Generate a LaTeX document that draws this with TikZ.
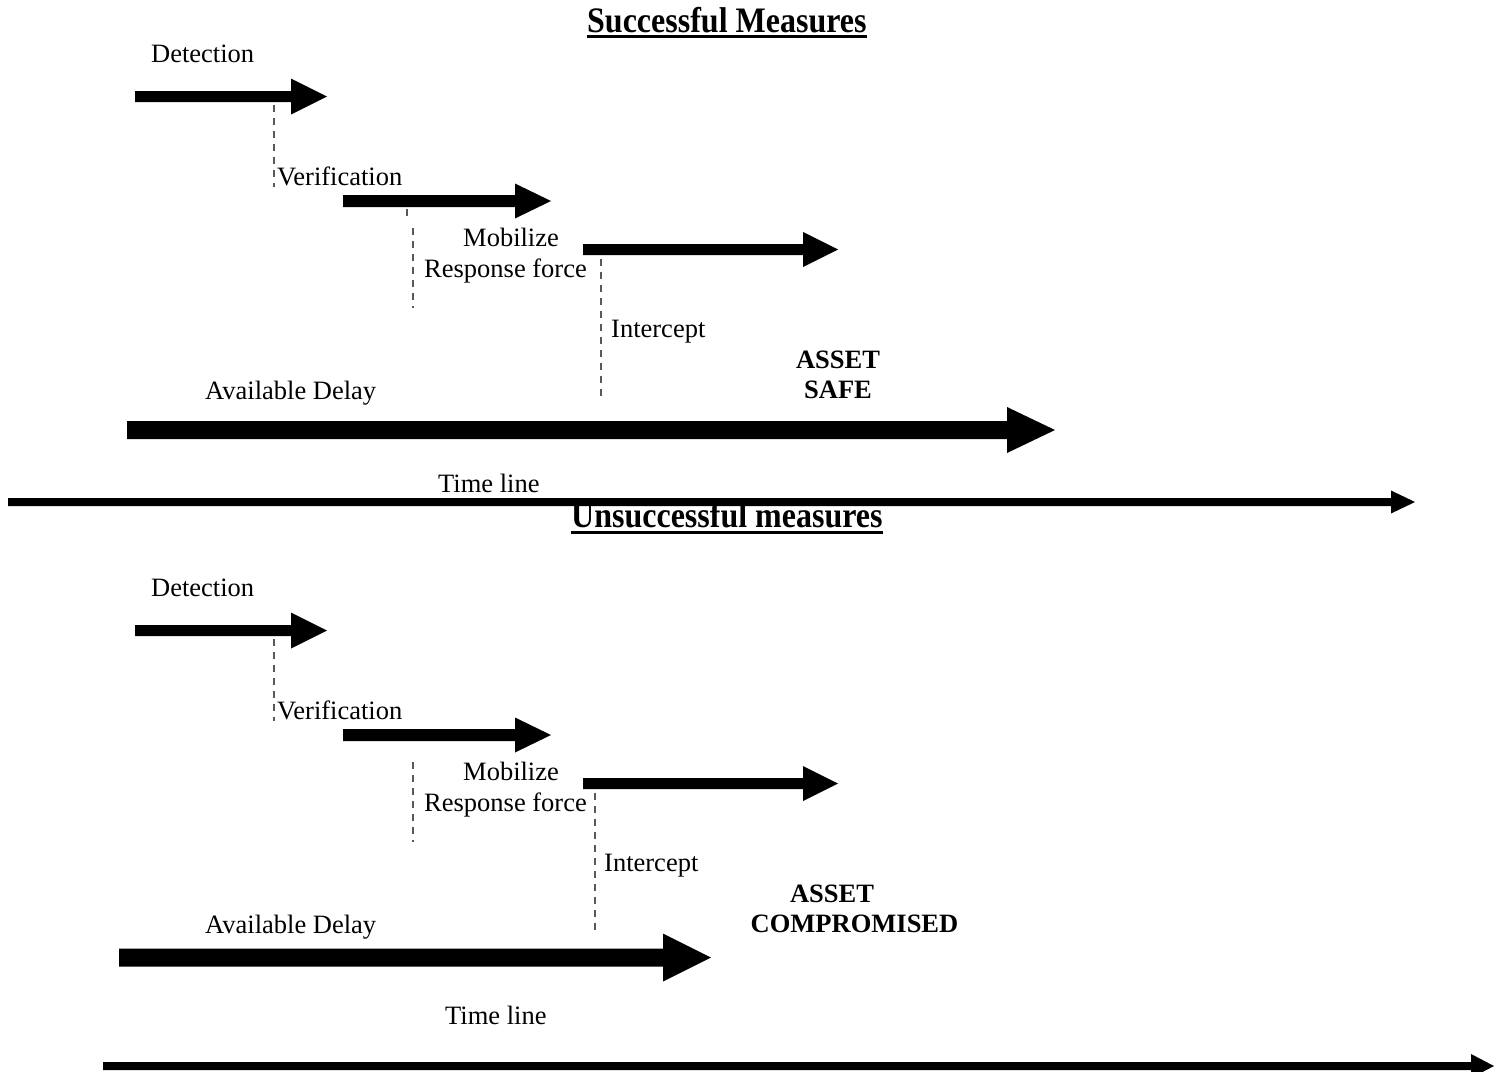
\documentclass[tikz,border=0pt]{standalone}
\usepackage{fontspec}
\setmainfont{Liberation Serif}
\newcommand\barr[6]{\fill (#1,{#4-#5}) -- (#2,{#4-#5}) -- (#2,{#4-#6}) -- (#3,#4) -- (#2,{#4+#6}) -- (#2,{#4+#5}) -- (#1,{#4+#5}) -- cycle;}
\newcommand\tallttl[1]{\scalebox{1}[1.12]{#1}}
\begin{document}
\begin{tikzpicture}[x=1pt,y=-1pt,
  lbl/.style={anchor=base west,inner sep=0pt,font=\fontsize{26.5}{30}\selectfont},
  bld/.style={anchor=base,inner sep=0pt,font=\fontsize{26.5}{30}\selectfont\bfseries},
  ttl/.style={anchor=base west,inner sep=0pt,font=\fontsize{32}{36}\selectfont\bfseries},
  dsh/.style={draw=black!65,line width=1.1pt,dash pattern=on 7pt off 6pt},
  uline/.style={line width=2.6pt}]
\useasboundingbox (0,0) rectangle (1507,1071);
% ---------- Successful ----------
\node[ttl] (ttlA) at (587,32) {\tallttl{Successful Measures}};
\draw[uline] ([yshift=-4.5pt]ttlA.base west) -- ([yshift=-4.5pt]ttlA.base east);
\node[lbl] (detA) at (151,62) {Detection};
\node[lbl] (verA) at (277,185) {Verification};
\node[lbl] (mobA) at (463,246) {Mobilize};
\node[lbl] (resA) at (424,277) {Response force};
\node[lbl] (intA) at (611,337) {Intercept};
\node[bld] (assetA) at (838,368) {ASSET};
\node[bld] (safeA) at (838,398) {SAFE};
\node[lbl] (avA) at (205,399) {Available Delay};
\node[lbl] (tlA) at (438,492) {Time line};
\barr{135}{291}{327}{96.5}{5.5}{18}
\barr{343}{515}{551}{201}{6}{17.5}
\barr{583}{803}{838}{249.5}{5.5}{17.5}
\barr{127}{1007}{1055}{430}{9}{23}
% ---------- Unsuccessful ----------
\node[ttl] (ttlB) at (571,527) {\tallttl{Unsuccessful measures}};
\draw[uline] ([yshift=-5.5pt]ttlB.base west) -- ([yshift=-5.5pt]ttlB.base east);
\barr{8}{1391}{1415}{502}{4}{11.5}
\draw[dsh] (274,105) -- (274,187);
\draw[dsh] (407,209) -- (407,217);
\draw[dsh] (413,228) -- (413,308);
\draw[dsh] (601,259) -- (601,400);
\node[lbl] (detB) at (151,596) {Detection};
\node[lbl] (verB) at (277,719) {Verification};
\node[lbl] (mobB) at (463,780) {Mobilize};
\node[lbl] (resB) at (424,811) {Response force};
\node[lbl] (intB) at (604,871) {Intercept};
\node[bld] (assetB) at (832,902) {ASSET};
\node[bld] (compB) at (854.5,932) {COMPROMISED};
\node[lbl] (avB) at (205,933) {Available Delay};
\node[lbl] (tlB) at (445,1024) {Time line};
\barr{135}{291}{327}{630.5}{5.5}{18}
\barr{343}{515}{551}{735}{6}{17.5}
\barr{583}{803}{838}{783.5}{5.5}{17.5}
\barr{119}{663}{711}{957.5}{9}{24}
\barr{103}{1471}{1494}{1066}{4}{12}
\draw[dsh] (274,639) -- (274,721);
\draw[dsh] (413,762) -- (413,842);
\draw[dsh] (595,793) -- (595,935);
\end{tikzpicture}
\end{document}
